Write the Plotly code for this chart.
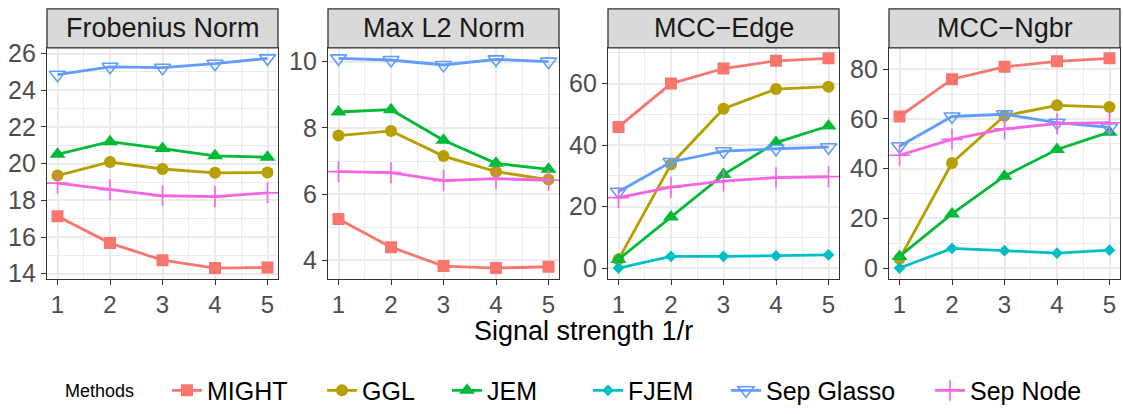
import plotly.graph_objects as go

# ---------------- data ----------------
x_vals = [1, 2, 3, 4, 5]
methods = ["MIGHT", "GGL", "JEM", "FJEM", "Sep Glasso", "Sep Node"]
panels = ["Frobenius Norm", "Max L2 Norm", "MCC\u2212Edge", "MCC\u2212Ngbr"]

frob_might = [17.14, 15.67, 14.74, 14.31, 14.34]
frob_ggl = [19.35, 20.09, 19.71, 19.50, 19.52]
frob_jem = [20.51, 21.20, 20.82, 20.43, 20.35]
frob_sepglasso = [24.85, 25.28, 25.23, 25.45, 25.74]
frob_sepnode = [18.94, 18.58, 18.25, 18.20, 18.41]

l2_might = [5.25, 4.40, 3.83, 3.77, 3.81]
l2_ggl = [7.77, 7.91, 7.15, 6.68, 6.44]
l2_jem = [8.48, 8.55, 7.63, 6.93, 6.75]
l2_sepglasso = [10.10, 10.05, 9.90, 10.07, 10.00]
l2_sepnode = [6.68, 6.65, 6.41, 6.47, 6.42]

edge_might = [45.9, 60.0, 64.9, 67.4, 68.2]
edge_ggl = [2.8, 33.7, 51.8, 58.2, 59.0]
edge_jem = [2.8, 16.6, 30.4, 40.8, 46.2]
edge_fjem = [0.0, 3.8, 3.8, 4.0, 4.3]
edge_sepglasso = [24.8, 34.5, 38.0, 38.8, 39.3]
edge_sepnode = [22.9, 26.3, 28.3, 29.4, 29.7]

ngbr_might = [61.0, 76.0, 81.0, 83.2, 84.4]
ngbr_ggl = [3.7, 42.3, 61.3, 65.5, 64.8]
ngbr_jem = [4.7, 21.8, 37.0, 47.7, 54.7]
ngbr_fjem = [0.0, 7.9, 7.0, 6.0, 7.2]
ngbr_sepglasso = [49.0, 61.0, 61.9, 58.5, 56.6]
ngbr_sepnode = [45.4, 51.8, 56.0, 58.1, 58.5]

panel_data = [
    {"MIGHT": frob_might, "GGL": frob_ggl, "JEM": frob_jem,
     "Sep Glasso": frob_sepglasso, "Sep Node": frob_sepnode},
    {"MIGHT": l2_might, "GGL": l2_ggl, "JEM": l2_jem,
     "Sep Glasso": l2_sepglasso, "Sep Node": l2_sepnode},
    {"MIGHT": edge_might, "GGL": edge_ggl, "JEM": edge_jem, "FJEM": edge_fjem,
     "Sep Glasso": edge_sepglasso, "Sep Node": edge_sepnode},
    {"MIGHT": ngbr_might, "GGL": ngbr_ggl, "JEM": ngbr_jem, "FJEM": ngbr_fjem,
     "Sep Glasso": ngbr_sepglasso, "Sep Node": ngbr_sepnode},
]
y_dtick = [2, 2, 20, 20]

# ---------------- styles ----------------
colors = {"MIGHT": "#F8766D", "GGL": "#B79F00", "JEM": "#00BA38",
          "FJEM": "#00BFC4", "Sep Glasso": "#619CFF", "Sep Node": "#F564E3"}
symbols = {"MIGHT": "square", "GGL": "circle", "JEM": "triangle-up",
           "FJEM": "diamond", "Sep Glasso": "triangle-down-open",
           "Sep Node": "cross-thin-open"}
msize = {"MIGHT": 12, "GGL": 12, "JEM": 14, "FJEM": 9,
         "Sep Glasso": 14, "Sep Node": 15}
# left edge (px) of each legend label in the figure
legend_text_px = {"MIGHT": 207, "GGL": 362, "JEM": 487, "FJEM": 628,
                  "Sep Glasso": 766, "Sep Node": 970}

W, H = 1123, 414
panel_px = [(47, 278), (328, 559), (608, 839), (889, 1120)]
plot_top, plot_bot = 42, 285
strip_top = 1
legend_y_px = 403
FONT = "Liberation Sans, Arial, sans-serif"

fig = go.Figure()
layout = {}
shapes = []
annotations = []
legend_ids = {m: ("legend" if k == 0 else "legend%d" % (k + 1))
              for k, m in enumerate(methods)}

for i, (name, data) in enumerate(zip(panels, panel_data)):
    ax = "" if i == 0 else str(i + 1)
    xd = [panel_px[i][0] / W, panel_px[i][1] / W]
    yd = [(H - plot_bot) / H, (H - plot_top) / H]
    allv = [v for arr in data.values() for v in arr]
    lo, hi = min(allv), max(allv)
    pad = 0.05 * (hi - lo)
    for m in methods:
        if m not in data:
            continue
        fig.add_trace(go.Scatter(
            x=x_vals, y=data[m], mode="lines+markers", name=m,
            legendgroup=m, showlegend=(i == 2), legend=legend_ids[m],
            line=dict(color=colors[m], width=2.8),
            marker=dict(symbol=symbols[m], size=msize[m], color=colors[m],
                        line=dict(color=colors[m],
                                  width=1.6 if "open" in symbols[m] else 0)),
            xaxis="x" + ax, yaxis="y" + ax,
        ))
    layout["xaxis" + ax] = dict(
        domain=xd, anchor="y" + ax, range=[0.8, 5.2], tickvals=x_vals,
        showgrid=True, gridcolor="#EBEBEB", gridwidth=1.6,
        minor=dict(dtick=0.5, tick0=0.5, showgrid=True, gridcolor="#EBEBEB",
                   gridwidth=0.8),
        showline=True, mirror=True, linecolor="#333333", linewidth=1.3,
        ticks="outside", ticklen=5, tickcolor="#333333", tickwidth=1.2,
        tickfont=dict(family=FONT, size=24, color="#4D4D4D"),
        zeroline=False,
    )
    layout["yaxis" + ax] = dict(
        domain=yd, anchor="x" + ax, range=[lo - pad, hi + pad],
        dtick=y_dtick[i], tick0=0,
        showgrid=True, gridcolor="#EBEBEB", gridwidth=1.6,
        minor=dict(dtick=y_dtick[i] / 2, tick0=0, showgrid=True,
                   gridcolor="#EBEBEB", gridwidth=0.8),
        showline=True, mirror=True, linecolor="#333333", linewidth=1.3,
        ticks="outside", ticklen=5, tickcolor="#333333", tickwidth=1.2,
        tickfont=dict(family=FONT, size=25, color="#4D4D4D"),
        zeroline=False,
    )
    shapes.append(dict(type="rect", xref="paper", yref="paper",
                       x0=xd[0], x1=xd[1], y0=yd[1], y1=(H - strip_top) / H,
                       fillcolor="#D9D9D9", line=dict(color="#333333", width=1.3),
                       layer="above"))
    annotations.append(dict(text=name, xref="paper", yref="paper",
                            x=(xd[0] + xd[1]) / 2, y=(H - (strip_top + plot_top) / 2) / H,
                            xanchor="center", yanchor="middle", showarrow=False,
                            font=dict(family=FONT, size=27, color="#1A1A1A")))

annotations.append(dict(text="Signal strength 1/r", xref="paper", yref="paper",
                        x=(panel_px[0][0] + panel_px[3][1]) / 2 / W,
                        y=(H - 340) / H, xanchor="center", yanchor="middle",
                        showarrow=False,
                        font=dict(family=FONT, size=27, color="#000000")))
annotations.append(dict(text="Methods", xref="paper", yref="paper",
                        x=63 / W, y=(H - legend_y_px) / H, xanchor="left",
                        yanchor="middle", showarrow=False,
                        font=dict(family=FONT, size=18, color="#000000")))

for m in methods:
    layout[legend_ids[m]] = dict(
        orientation="h", x=(legend_text_px[m] - 40) / W, xanchor="left",
        y=(H - legend_y_px) / H, yanchor="middle",
        font=dict(family=FONT, size=25, color="#000000"),
        bgcolor="rgba(0,0,0,0)", borderwidth=0,
    )

fig.update_layout(
    width=W, height=H, margin=dict(l=0, r=0, t=0, b=0),
    paper_bgcolor="white", plot_bgcolor="white",
    shapes=shapes, annotations=annotations,
    font=dict(family=FONT),
    **layout,
)

fig.write_html("out.html")
